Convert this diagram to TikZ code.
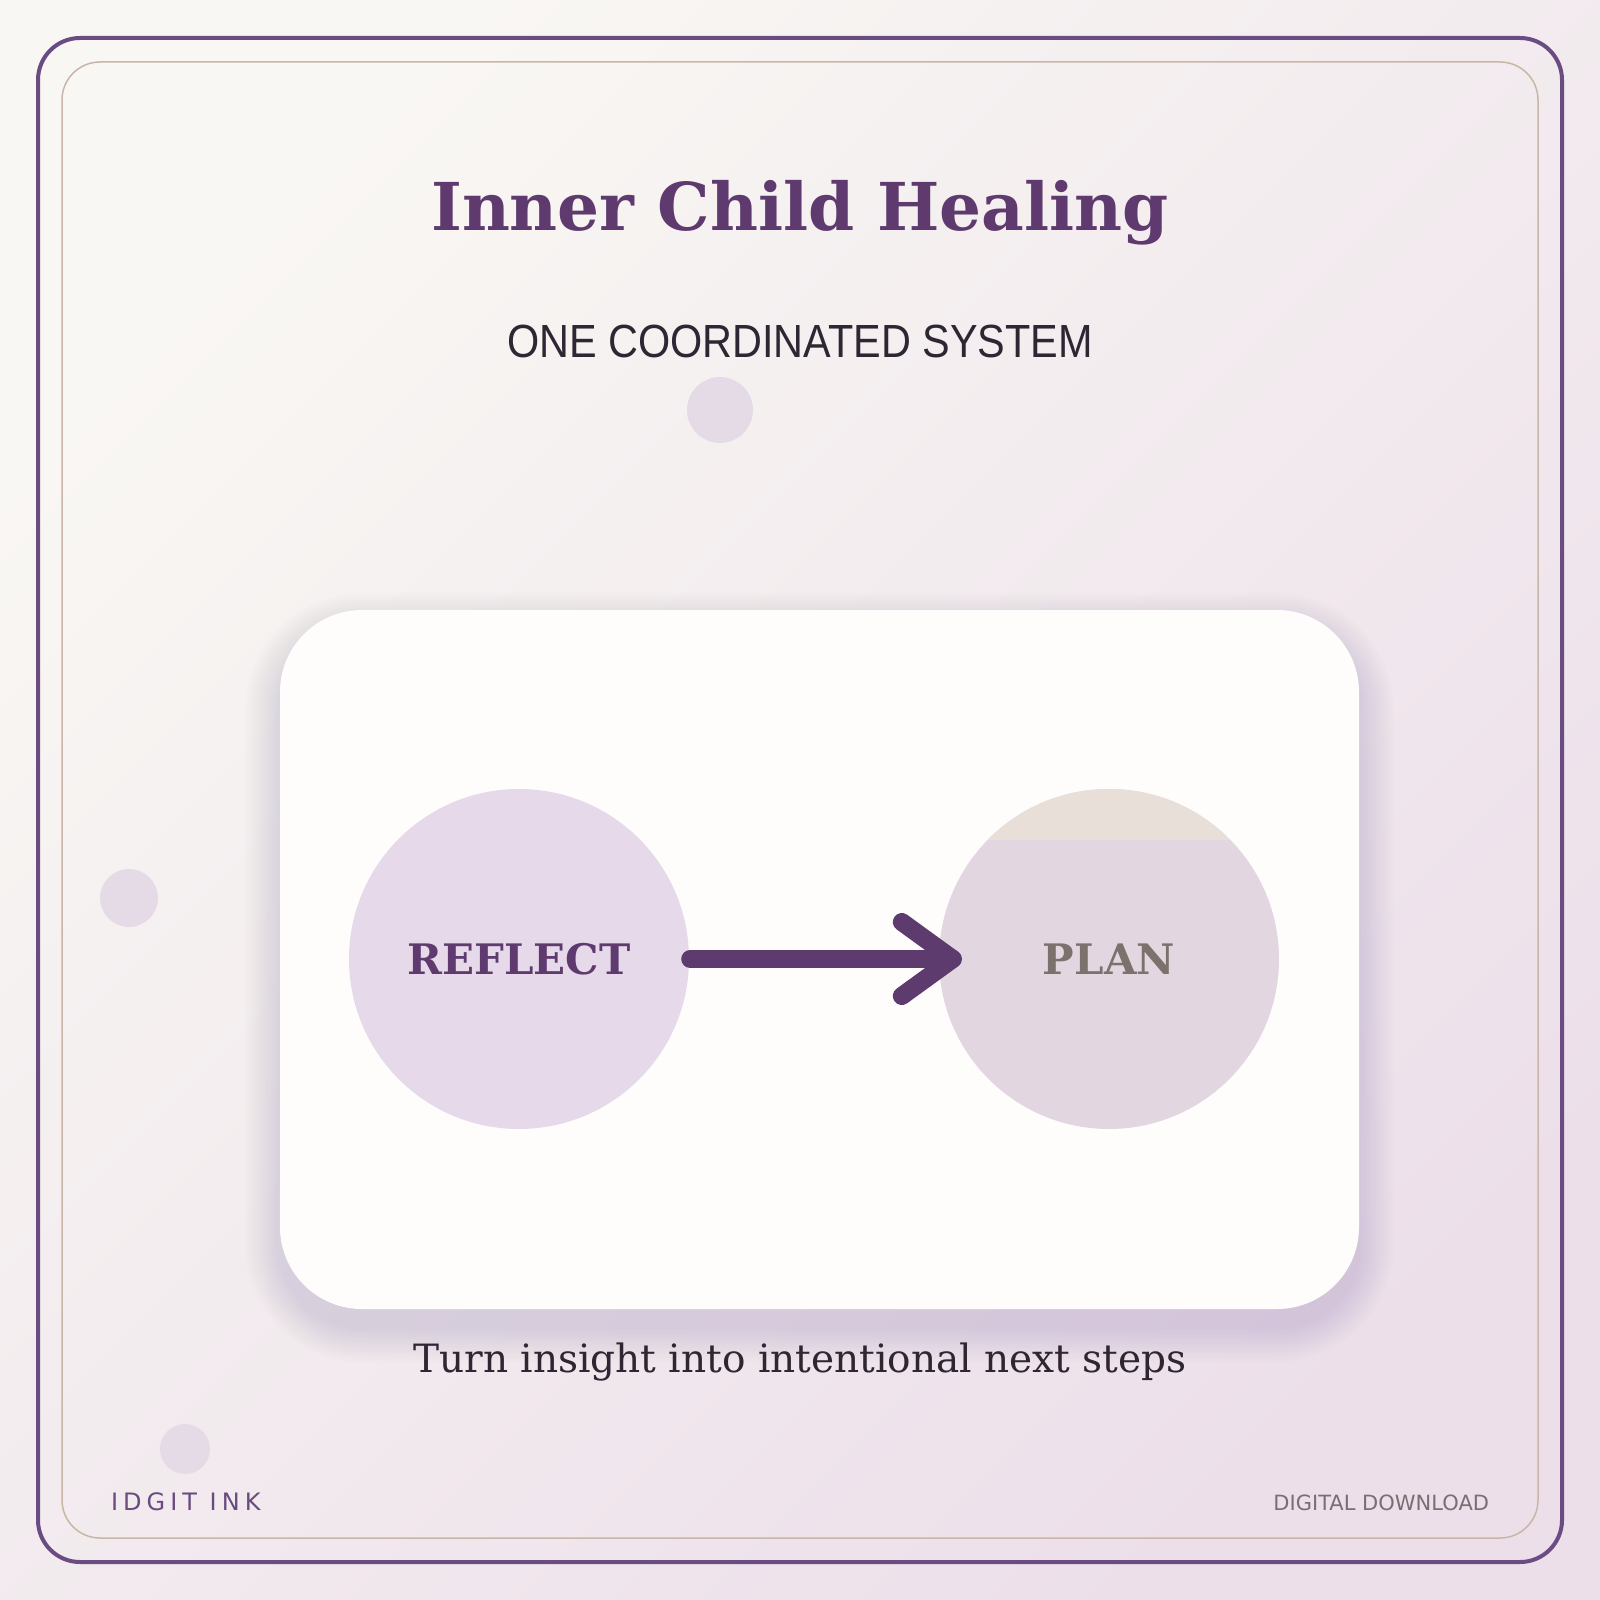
\documentclass[tikz,border=0pt]{standalone}
\usepackage{fontspec}
\setmainfont{DejaVu Serif}
\newfontfamily\titlefont{DejaVu Serif}
\newfontfamily\subfont[FakeStretch=0.89]{Liberation Sans}
\newfontfamily\dvsans{DejaVu Sans}
\newfontfamily\brandfont[LetterSpace=21]{DejaVu Sans}
\usetikzlibrary{calc}
\definecolor{bgA}{HTML}{F9F7F3}
\definecolor{bgB}{HTML}{ECDFEA}
\definecolor{frameOut}{HTML}{6B4C82}
\definecolor{frameIn}{HTML}{C9B6A8}
\definecolor{dotc}{HTML}{E5DBE7}
\definecolor{titlec}{HTML}{5E3A6E}
\definecolor{subc}{HTML}{2E2632}
\definecolor{cardc}{HTML}{FFFDFC}
\definecolor{shadowc}{HTML}{A58FB4}
\definecolor{reflectc}{HTML}{E5D9EA}
\definecolor{planc}{HTML}{E2D7E1}
\definecolor{planTop}{HTML}{E8DFD9}
\definecolor{plantext}{HTML}{7D716E}
\definecolor{arrowc}{HTML}{5E3B6E}
\definecolor{brandc}{HTML}{6B4A80}
\definecolor{dlc}{HTML}{7A6E73}
\tikzset{
  stepcircle/.style={circle, minimum size=340pt, inner sep=0pt, draw=none},
  label/.style={inner sep=0pt, outer sep=0pt},
  arrowline/.style={draw=arrowc, line width=18pt, line cap=round, line join=round},
  dot/.style={fill=dotc}
}
\begin{document}
\begin{tikzpicture}[x=1pt,y=-1pt]
\useasboundingbox (0,0) rectangle (1600,1600);
\shade[top color=bgA, bottom color=bgB, shading angle=45] (0,0) rectangle (1600,1600);
% frames
\draw[frameOut, line width=4pt, rounded corners=42pt] (38,38) rectangle (1562,1562);
\draw[frameIn, line width=1.5pt, rounded corners=38pt] (62,62) rectangle (1538,1538);
% decorative dots
\fill[dot] (720,410) circle (33);
\fill[dot] (129,898) circle (29);
\fill[dot] (185,1449) circle (25);
% card shadow
\foreach \i in {1,...,14}{
  \fill[shadowc, opacity=0.02, rounded corners={(82+2.5*\i)*1pt}]
    ({280-2.5*\i},{628-2.5*\i}) rectangle ({1359+2.5*\i},{1327+2.5*\i});
}
% card
\fill[cardc, rounded corners=82pt] (280,610) rectangle (1359,1309);
% circles
\node[stepcircle, fill=reflectc] (reflect) at (519,959) {};
\node[stepcircle, fill=planc] (plan) at (1109,959) {};
\begin{scope}
  \clip (1109,959) circle (170);
  \fill[planTop] (930,780) rectangle (1290,840);
\end{scope}
\node[label, text=titlec] (reflectlbl) at (reflect) {\bfseries\fontsize{42}{42}\selectfont REFLECT};
\node[label, text=plantext] (planlbl) at (plan) {\bfseries\fontsize{42}{42}\selectfont PLAN};
% arrow
\coordinate (tail) at ($(reflect.east)+(1,0)$);
\coordinate (tip) at ($(plan.west)+(14,0)$);
\draw[arrowline] (tail) -- (tip);
\draw[arrowline] ($(tip)+(-51,-37)$) -- (tip) -- ($(tip)+(-51,37)$);
% texts
\node[label, anchor=base, text=titlec] (title) at (800,230) {\titlefont\bfseries\fontsize{66}{66}\selectfont Inner Child Healing};
\node[label, anchor=base, text=subc] (subtitle) at (800,357) {\subfont\fontsize{46.5}{46.5}\selectfont ONE COORDINATED SYSTEM};
\node[label, anchor=base, text=subc] (caption) at (800,1372) {\fontsize{39}{39}\selectfont Turn insight into intentional next steps};
\node[label, anchor=base west, text=brandc] (brand) at (111,1510) {\brandfont\fontsize{24}{24}\selectfont IDGIT INK};
\node[label, anchor=base east, text=dlc] (dl) at (1489,1510) {\dvsans\fontsize{21}{21}\selectfont DIGITAL DOWNLOAD};
\end{tikzpicture}
\end{document}
